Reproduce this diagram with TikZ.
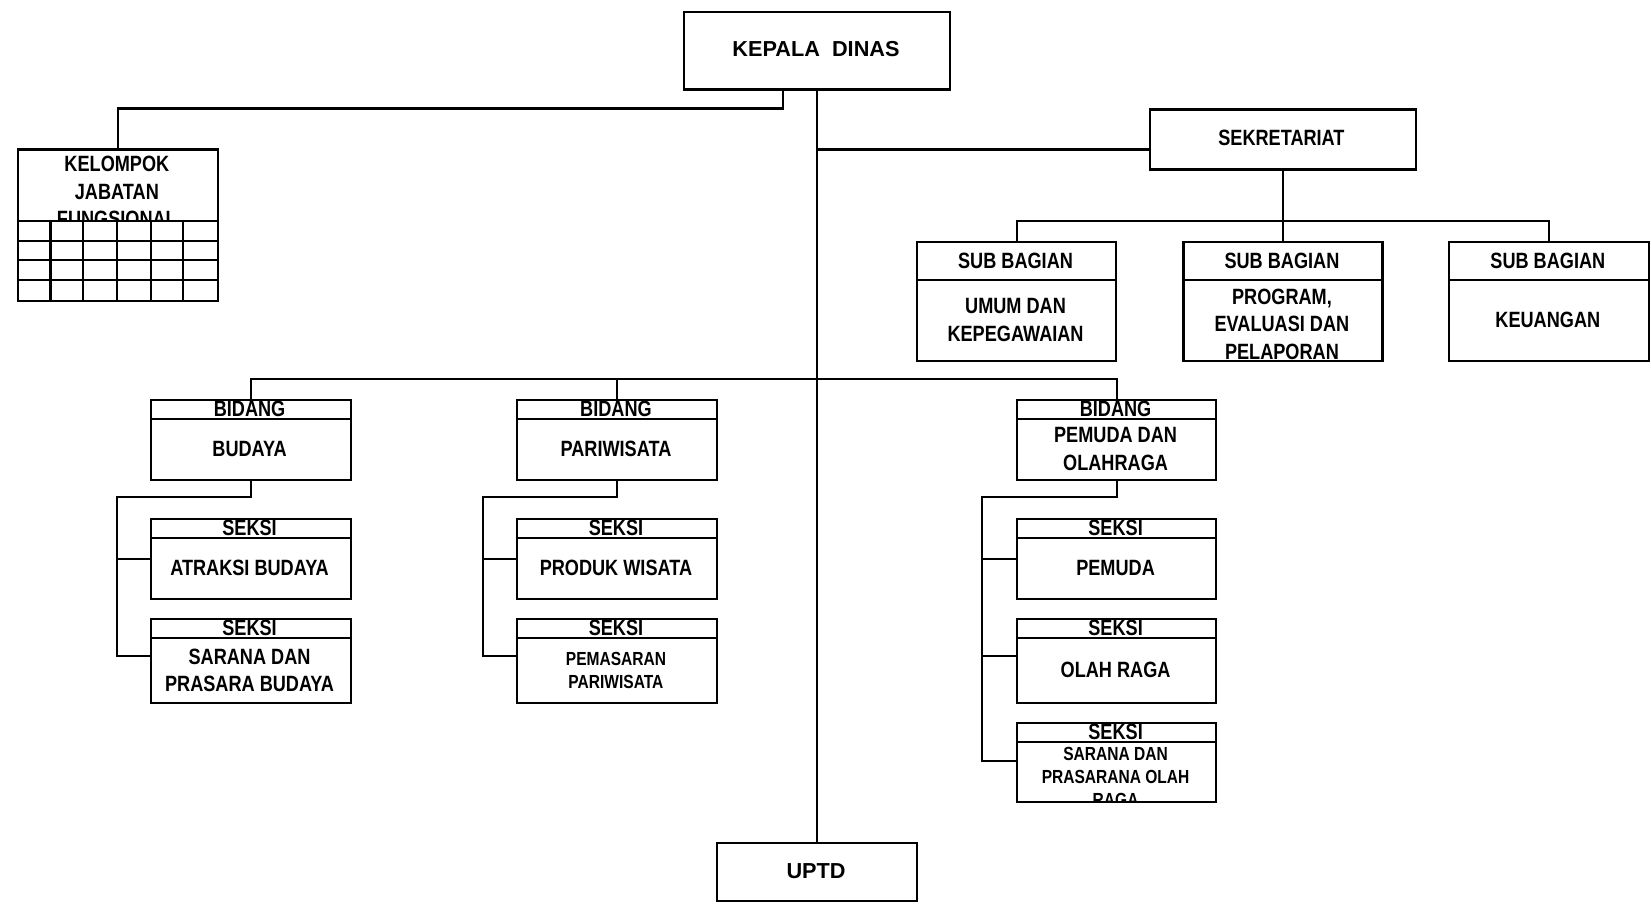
\documentclass[tikz,border=0pt]{standalone}
\usepackage{fontspec}
\setmainfont{Liberation Sans}
\newfontfamily\nrw{Liberation Sans}[FakeStretch=0.82]
\tikzset{
  box/.style={draw, line width=1pt, inner sep=0pt, anchor=north west},
  conn/.style={line width=1pt},
  txt/.style={font=\nrw\bfseries\fontsize{10.5}{13}\selectfont, align=center, inner sep=0pt},
  small/.style={font=\nrw\bfseries\fontsize{9}{10.8}\selectfont},
  wide/.style={font=\bfseries\fontsize{10.3}{13}\selectfont, align=center, inner sep=0pt}
}
\newcommand\orgbox[9]{%
  \node[box, minimum width=#4*0.5pt, minimum height=#5*0.5pt] (#1) at (#2,#3) {};
  \draw[conn] (#2,#3+#6) -- (#2+#4,#3+#6);
  \node[txt] (#1h) at (#2+#4/2,#3+#6/2) {#7};
  \begin{scope}
    \clip (#2,#3+#6) rectangle (#2+#4,#3+#5);
    \node[txt,#8] (#1b) at (#2+#4/2,#3+#6/2+#5/2) {#9};
  \end{scope}}
\begin{document}
\begin{tikzpicture}[x=0.5pt,y=-0.5pt]
\useasboundingbox (0,0) rectangle (1568,860.5);
% top
\node[box, minimum width=126pt, minimum height=37pt] (kd) at (649,10) {};
\node[wide] (kdt) at (775,47) {KEPALA~~DINAS};
\node[box, minimum width=126.5pt, minimum height=28.5pt] (sek) at (1091,103) {};
\node[txt] (sekt) at (1217,131) {SEKRETARIAT};
\node[box, minimum width=95pt, minimum height=27.5pt] (uptd) at (680,800) {};
\node[wide] (uptdt) at (775,827) {UPTD};
% kelompok jabatan fungsional
\node[box, minimum width=95pt, minimum height=72pt] (kfj) at (16,141) {};
\begin{scope}
  \clip (16,141) rectangle (206,210);
  \node[txt] (kfjt) at (111,182) {KELOMPOK\\JABATAN\\FUNGSIONAL};
\end{scope}
\foreach \yy in {210,229,247,266} \draw[conn] (16,\yy) -- (206,\yy);
\foreach \xx in {48,79,111,143,174} \draw[conn] (\xx,210) -- (\xx,285);
% sub bagian
\orgbox{sb1}{870}{229}{189}{113}{37}{SUB BAGIAN}{}{UMUM DAN\\KEPEGAWAIAN}
\orgbox{sb2}{1123}{229}{189}{113}{37}{SUB BAGIAN}{yshift=-2pt}{PROGRAM,\\EVALUASI DAN\\PELAPORAN}
\orgbox{sb3}{1375}{229}{190}{113}{37}{SUB BAGIAN}{}{KEUANGAN}
% bidang
\orgbox{bb}{142}{379}{190}{76}{19}{BIDANG}{}{BUDAYA}
\orgbox{bp}{490}{379}{190}{76}{19}{BIDANG}{}{PARIWISATA}
\orgbox{bo}{965}{379}{189}{76}{19}{BIDANG}{}{PEMUDA DAN\\OLAHRAGA}
% seksi
\orgbox{s1}{142}{492}{190}{76}{19}{SEKSI}{}{ATRAKSI BUDAYA}
\orgbox{s2}{142}{587}{190}{80}{19}{SEKSI}{}{SARANA DAN\\PRASARA BUDAYA}
\orgbox{s3}{490}{492}{190}{76}{19}{SEKSI}{}{PRODUK WISATA}
\orgbox{s4}{490}{587}{190}{80}{19}{SEKSI}{small}{PEMASARAN\\PARIWISATA}
\orgbox{s5}{965}{492}{189}{76}{19}{SEKSI}{}{PEMUDA}
\orgbox{s6}{965}{587}{189}{80}{19}{SEKSI}{}{OLAH RAGA}
\orgbox{s7}{965}{686}{189}{75}{19}{SEKSI}{small,yshift=-2.5pt}{SARANA DAN\\PRASARANA OLAH\\RAGA}
% connectors
\draw[conn] (kd.south) -- (uptd.north);
\coordinate (kj) at (744,103);
\draw[conn] (kd.south -| kj) -- (kj) -| (kfj.north);
\coordinate (sekj) at (775,142);
\draw[conn] (sekj) -- (sekj -| sek.west);
\coordinate (sbbar) at (1217,210);
\draw[conn] (sek.south) -- (sb2.north);
\draw[conn] (sb1.north) |- (sbbar) -| (sb3.north);
\coordinate (bbar) at (775,360);
\draw[conn] (bb.north) |- (bbar) -| (bo.north);
\draw[conn] (bp.north) -- (bp.north |- bbar);
% budaya
\coordinate (bj) at (111,472);
\coordinate (bj2) at (111,623);
\draw[conn] (bb.south) |- (bj) -- (bj2) -- (bj2 -| s2.west);
\draw[conn] (bj |- s1.west) -- (s1.west);
% pariwisata
\coordinate (pj) at (459,472);
\coordinate (pj2) at (459,623);
\draw[conn] (bp.south) |- (pj) -- (pj2) -- (pj2 -| s4.west);
\draw[conn] (pj |- s3.west) -- (s3.west);
% pemuda
\coordinate (oj) at (933,472);
\coordinate (oj2) at (933,623);
\coordinate (oj3) at (933,723);
\draw[conn] (bo.south) |- (oj) -- (oj3) -- (oj3 -| s7.west);
\draw[conn] (oj |- s5.west) -- (s5.west);
\draw[conn] (oj2) -- (oj2 -| s6.west);
\end{tikzpicture}
\end{document}
